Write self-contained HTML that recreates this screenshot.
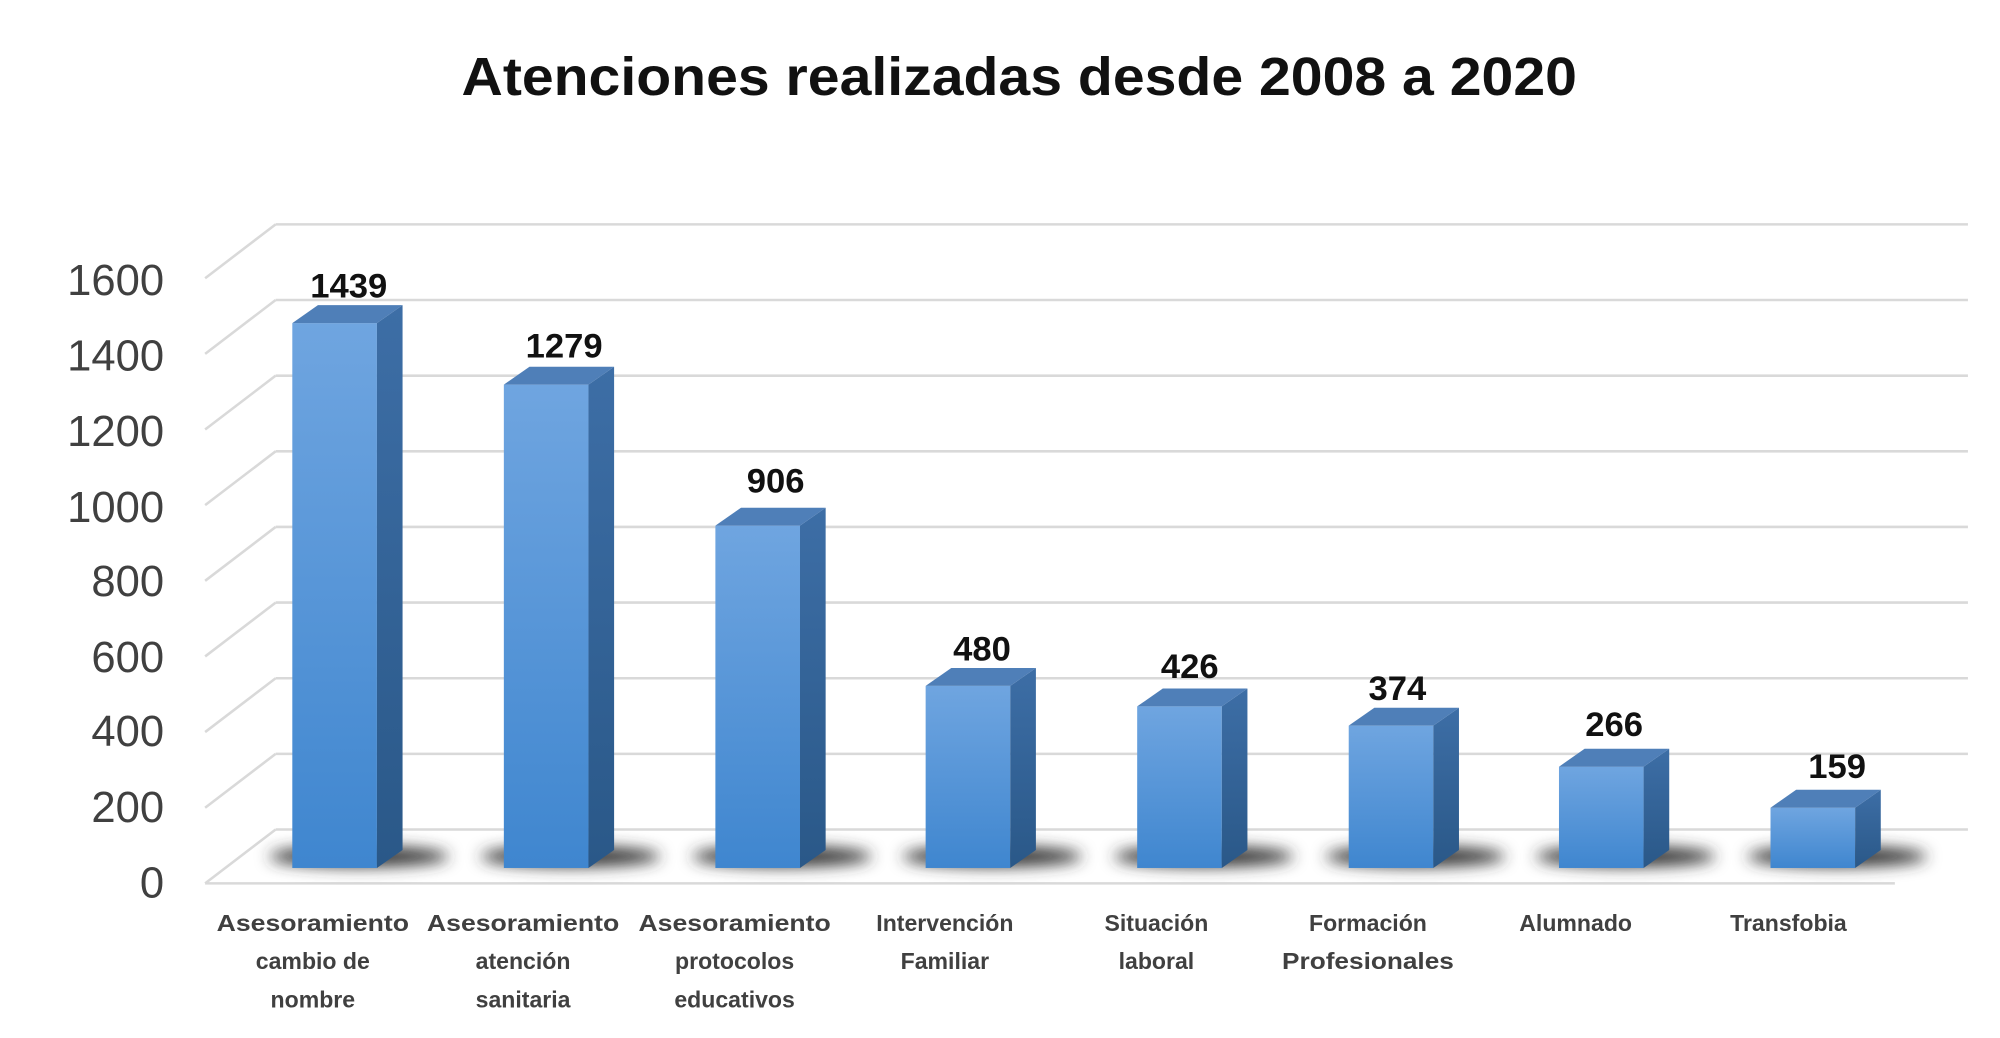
<!DOCTYPE html>
<html><head><meta charset="utf-8"><style>
html,body{margin:0;padding:0;background:#fff;}
svg{display:block;}
</style></head><body>
<svg width="2000" height="1038" viewBox="0 0 1560 809.6" xmlns="http://www.w3.org/2000/svg">
<defs>
<linearGradient id="fr" x1="0" y1="0" x2="0" y2="1"><stop offset="0" stop-color="#6fa5e0"/><stop offset="1" stop-color="#3f86cf"/></linearGradient>
<linearGradient id="sd" x1="0" y1="0" x2="0" y2="1"><stop offset="0" stop-color="#3d6ea6"/><stop offset="1" stop-color="#2a5888"/></linearGradient>
<filter id="bl" x="-50%" y="-200%" width="200%" height="500%"><feGaussianBlur stdDeviation="6"/></filter>
</defs>
<rect width="1560" height="810" fill="#fff"/>
<text x="795" y="74" text-anchor="middle" font-family="Liberation Sans, sans-serif" font-weight="bold" font-size="42" fill="#111" textLength="870" lengthAdjust="spacingAndGlyphs">Atenciones realizadas desde 2008 a 2020</text>
<g stroke="#d9d9d9" stroke-width="2" fill="none">
<line x1="215" y1="175" x2="1535" y2="175"/><line x1="160" y1="217" x2="215" y2="175"/>
<line x1="215" y1="234" x2="1535" y2="234"/><line x1="160" y1="276" x2="215" y2="234"/>
<line x1="215" y1="293" x2="1535" y2="293"/><line x1="160" y1="335" x2="215" y2="293"/>
<line x1="215" y1="352" x2="1535" y2="352"/><line x1="160" y1="394" x2="215" y2="352"/>
<line x1="215" y1="411" x2="1535" y2="411"/><line x1="160" y1="453" x2="215" y2="411"/>
<line x1="215" y1="470" x2="1535" y2="470"/><line x1="160" y1="512" x2="215" y2="470"/>
<line x1="215" y1="529" x2="1535" y2="529"/><line x1="160" y1="571" x2="215" y2="529"/>
<line x1="215" y1="588" x2="1535" y2="588"/><line x1="160" y1="630" x2="215" y2="588"/>
<line x1="215" y1="647" x2="1535" y2="647"/><line x1="160" y1="689" x2="215" y2="647"/>
<line x1="160" y1="689" x2="1478" y2="689"/>
</g>
<g font-family="Liberation Sans, sans-serif" font-size="34" fill="#404040" text-anchor="end">
<text x="128" y="230">1600</text><text x="128" y="289">1400</text><text x="128" y="348">1200</text>
<text x="128" y="407">1000</text><text x="128" y="465">800</text><text x="128" y="524">600</text>
<text x="128" y="582">400</text><text x="128" y="641">200</text><text x="128" y="700">0</text>
</g>
<g font-family="Liberation Sans, sans-serif" font-weight="bold" font-size="18" fill="#404040" text-anchor="middle">
<text x="244" y="726" textLength="150" lengthAdjust="spacingAndGlyphs">Asesoramiento</text><text x="244" y="756">cambio de</text><text x="244" y="786">nombre</text>
<text x="408" y="726" textLength="150" lengthAdjust="spacingAndGlyphs">Asesoramiento</text><text x="408" y="756">atención</text><text x="408" y="786">sanitaria</text>
<text x="573" y="726" textLength="150" lengthAdjust="spacingAndGlyphs">Asesoramiento</text><text x="573" y="756">protocolos</text><text x="573" y="786">educativos</text>
<text x="737" y="726">Intervención</text><text x="737" y="756">Familiar</text>
<text x="902" y="726">Situación</text><text x="902" y="756">laboral</text>
<text x="1067" y="726">Formación</text><text x="1067" y="756" textLength="134" lengthAdjust="spacingAndGlyphs">Profesionales</text>
<text x="1229" y="726">Alumnado</text>
<text x="1395" y="726">Transfobia</text>
</g>
<g font-family="Liberation Sans, sans-serif" font-weight="bold" font-size="27" fill="#111" text-anchor="middle">
<g>
<ellipse cx="280" cy="668" rx="70" ry="8" fill="#333" filter="url(#bl)"/>
<rect x="228" y="252" width="66" height="425" fill="url(#fr)"/>
<polygon points="294,252 314,238 314,663 294,677" fill="url(#sd)"/>
<polygon points="228,252 248,238 314,238 294,252" fill="#4f7fb8"/>
<text x="272" y="232">1439</text>
</g>
<g>
<ellipse cx="445" cy="668" rx="70" ry="8" fill="#333" filter="url(#bl)"/>
<rect x="393" y="300" width="66" height="377" fill="url(#fr)"/>
<polygon points="459,300 479,286 479,663 459,677" fill="url(#sd)"/>
<polygon points="393,300 413,286 479,286 459,300" fill="#4f7fb8"/>
<text x="440" y="279">1279</text>
</g>
<g>
<ellipse cx="610" cy="668" rx="70" ry="8" fill="#333" filter="url(#bl)"/>
<rect x="558" y="410" width="66" height="267" fill="url(#fr)"/>
<polygon points="624,410 644,396 644,663 624,677" fill="url(#sd)"/>
<polygon points="558,410 578,396 644,396 624,410" fill="#4f7fb8"/>
<text x="605" y="384">906</text>
</g>
<g>
<ellipse cx="774" cy="668" rx="70" ry="8" fill="#333" filter="url(#bl)"/>
<rect x="722" y="535" width="66" height="142" fill="url(#fr)"/>
<polygon points="788,535 808,521 808,663 788,677" fill="url(#sd)"/>
<polygon points="722,535 742,521 808,521 788,535" fill="#4f7fb8"/>
<text x="766" y="515">480</text>
</g>
<g>
<ellipse cx="939" cy="668" rx="70" ry="8" fill="#333" filter="url(#bl)"/>
<rect x="887" y="551" width="66" height="126" fill="url(#fr)"/>
<polygon points="953,551 973,537 973,663 953,677" fill="url(#sd)"/>
<polygon points="887,551 907,537 973,537 953,551" fill="#4f7fb8"/>
<text x="928" y="529">426</text>
</g>
<g>
<ellipse cx="1104" cy="668" rx="70" ry="8" fill="#333" filter="url(#bl)"/>
<rect x="1052" y="566" width="66" height="111" fill="url(#fr)"/>
<polygon points="1118,566 1138,552 1138,663 1118,677" fill="url(#sd)"/>
<polygon points="1052,566 1072,552 1138,552 1118,566" fill="#4f7fb8"/>
<text x="1090" y="546">374</text>
</g>
<g>
<ellipse cx="1268" cy="668" rx="70" ry="8" fill="#333" filter="url(#bl)"/>
<rect x="1216" y="598" width="66" height="79" fill="url(#fr)"/>
<polygon points="1282,598 1302,584 1302,663 1282,677" fill="url(#sd)"/>
<polygon points="1216,598 1236,584 1302,584 1282,598" fill="#4f7fb8"/>
<text x="1259" y="574">266</text>
</g>
<g>
<ellipse cx="1433" cy="668" rx="70" ry="8" fill="#333" filter="url(#bl)"/>
<rect x="1381" y="630" width="66" height="47" fill="url(#fr)"/>
<polygon points="1447,630 1467,616 1467,663 1447,677" fill="url(#sd)"/>
<polygon points="1381,630 1401,616 1467,616 1447,630" fill="#4f7fb8"/>
<text x="1433" y="607">159</text>
</g>
</g>
</svg>
</body></html>
